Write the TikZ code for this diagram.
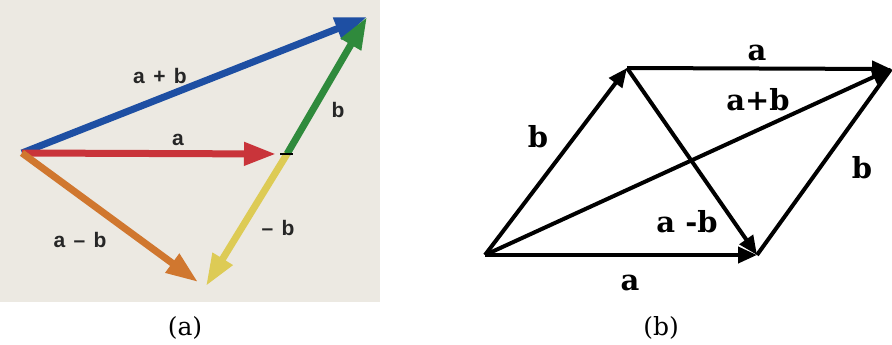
\documentclass[tikz,border=0pt]{standalone}
\usepackage{fontspec}
\setmainfont{DejaVu Serif}
\newfontfamily\lblfont{Liberation Sans}
\usetikzlibrary{arrows.meta}
\definecolor{paper}{HTML}{ECE9E2}
\definecolor{vblue}{HTML}{1E4FA3}
\definecolor{vred}{HTML}{C9343A}
\definecolor{vgreen}{HTML}{2F8A3C}
\definecolor{vyellow}{HTML}{DDCB55}
\definecolor{vorange}{HTML}{D0772F}
\tikzset{vec/.style={line width=7pt,-{Triangle[length=32pt,width=22pt]}},
  lbl/.style={font=\lblfont\bfseries\fontsize{21}{23}\selectfont,text=black!85},
  arr/.style={line width=4pt,-{Triangle[length=19pt,width=16pt]}},
  tag/.style={font=\bfseries\fontsize{29}{31}\selectfont},
  captext/.style={font=\fontsize{25}{27}\selectfont}}
\newcommand{\gap}{\hspace{.4em}}

\begin{document}
\begin{tikzpicture}[x=1pt,y=-1pt]
\useasboundingbox (0,0) rectangle (892,345);
\fill[paper] (0,0) rectangle (380,302);
% (a) triangle of vectors
\coordinate (O) at (22,153);
\coordinate (A) at (276,154);
\coordinate (B) at (287,154);
\coordinate (S) at (367,17);
\coordinate (D) at (206,286);
\coordinate (E) at (198,282);
\draw[vec,vblue] (O)--(S);
\draw[vec,vred] (O)--(A);
\draw[vec,vgreen] (B)--(S);
\draw[vec,vyellow] (B)--(D);
\draw[vec,vorange] (O)--(E);
\draw[line width=1.5pt] (280,154)--(293,154);
\node[lbl] (lsum) at (160,76){a\gap+\gap b};
\node[lbl] (la) at (178,140){a};
\node[lbl] (lb) at (338,110){b};
\node[lbl] (lnb) at (278,228){\textendash\gap b};
\node[lbl] (ldiff) at (80,240){a\gap\textendash\gap b};
% (b) parallelogram
\coordinate (P0) at (485,255);
\coordinate (P1) at (627,68);
\coordinate (P2) at (891,69);
\coordinate (P3) at (757,255);
\draw[arr] (P0)--(P3);
\draw[arr] (P0)--(P1);
\draw[arr] (P1)--(P2);
\draw[line width=4pt] (P3)--(P2);
\draw[arr] (P0)--(P2);
\draw[arr] (P1)--(P3);
\node[tag] (ta1) at (757,53){a};
\node[tag] (tsum) at (758,100){a+b};
\node[tag] (tb1) at (538,137){b};
\node[tag] (tb2) at (862,168){b};
\node[tag] (tdiff) at (687,222){a -b};
\node[tag] (ta2) at (630,283){a};
% captions
\node[captext] (capa) at (185,328){(a)};
\node[captext] (capb) at (661,328){(b)};
\end{tikzpicture}
\end{document}
